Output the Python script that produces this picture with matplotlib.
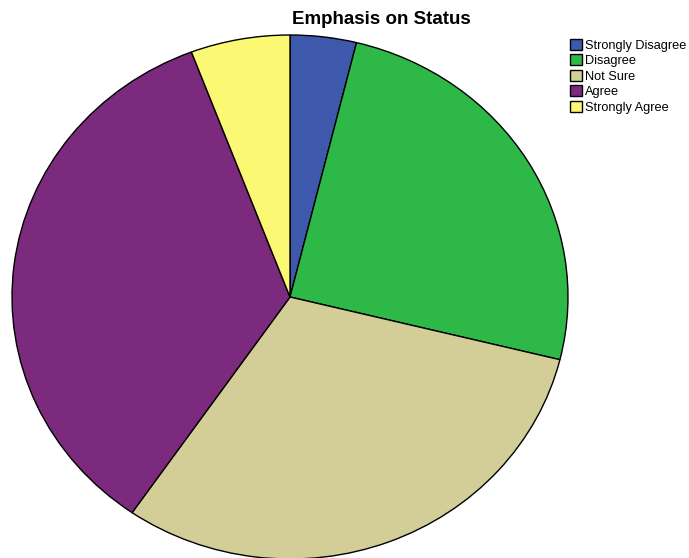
import matplotlib.pyplot as plt

labels = ['Strongly Disagree', 'Disagree', 'Not Sure', 'Agree', 'Strongly Agree']
counts = [2, 13, 16, 18, 3]
colors = ['#3E58AC', '#2EB848', '#D3CE97', '#7B2A7D', '#FBF873']

W, H = 689, 558
fig = plt.figure(figsize=(W / 100, H / 100), dpi=100)

# elliptical pie, as in the source
ax = fig.add_axes([12 / W, -1 / H, 556 / W, 524 / H])
wedges, _ = ax.pie(counts, colors=colors, startangle=90, counterclock=False,
                   radius=1, wedgeprops=dict(edgecolor='black', linewidth=1))
for w in wedges:
    w.set_clip_on(False)
ax.set_aspect('auto')
ax.set_xlim(-1, 1)
ax.set_ylim(-1, 1)
ax.axis('off')

fig.text(381 / W, 1 - 20 / H, 'Emphasis on Status', ha='center', va='center',
         fontsize=13.5, fontweight='bold', family='Liberation Sans')

fig.legend(wedges, labels, loc='upper left', bbox_to_anchor=(570 / W, 1 - 39 / H),
           frameon=False, handlelength=0.95, handleheight=0.95,
           handletextpad=0.25, labelspacing=0.2, borderpad=0, borderaxespad=0,
           prop={'family': 'Liberation Sans', 'size': 9.2})

fig.savefig('out.png', dpi=100)
